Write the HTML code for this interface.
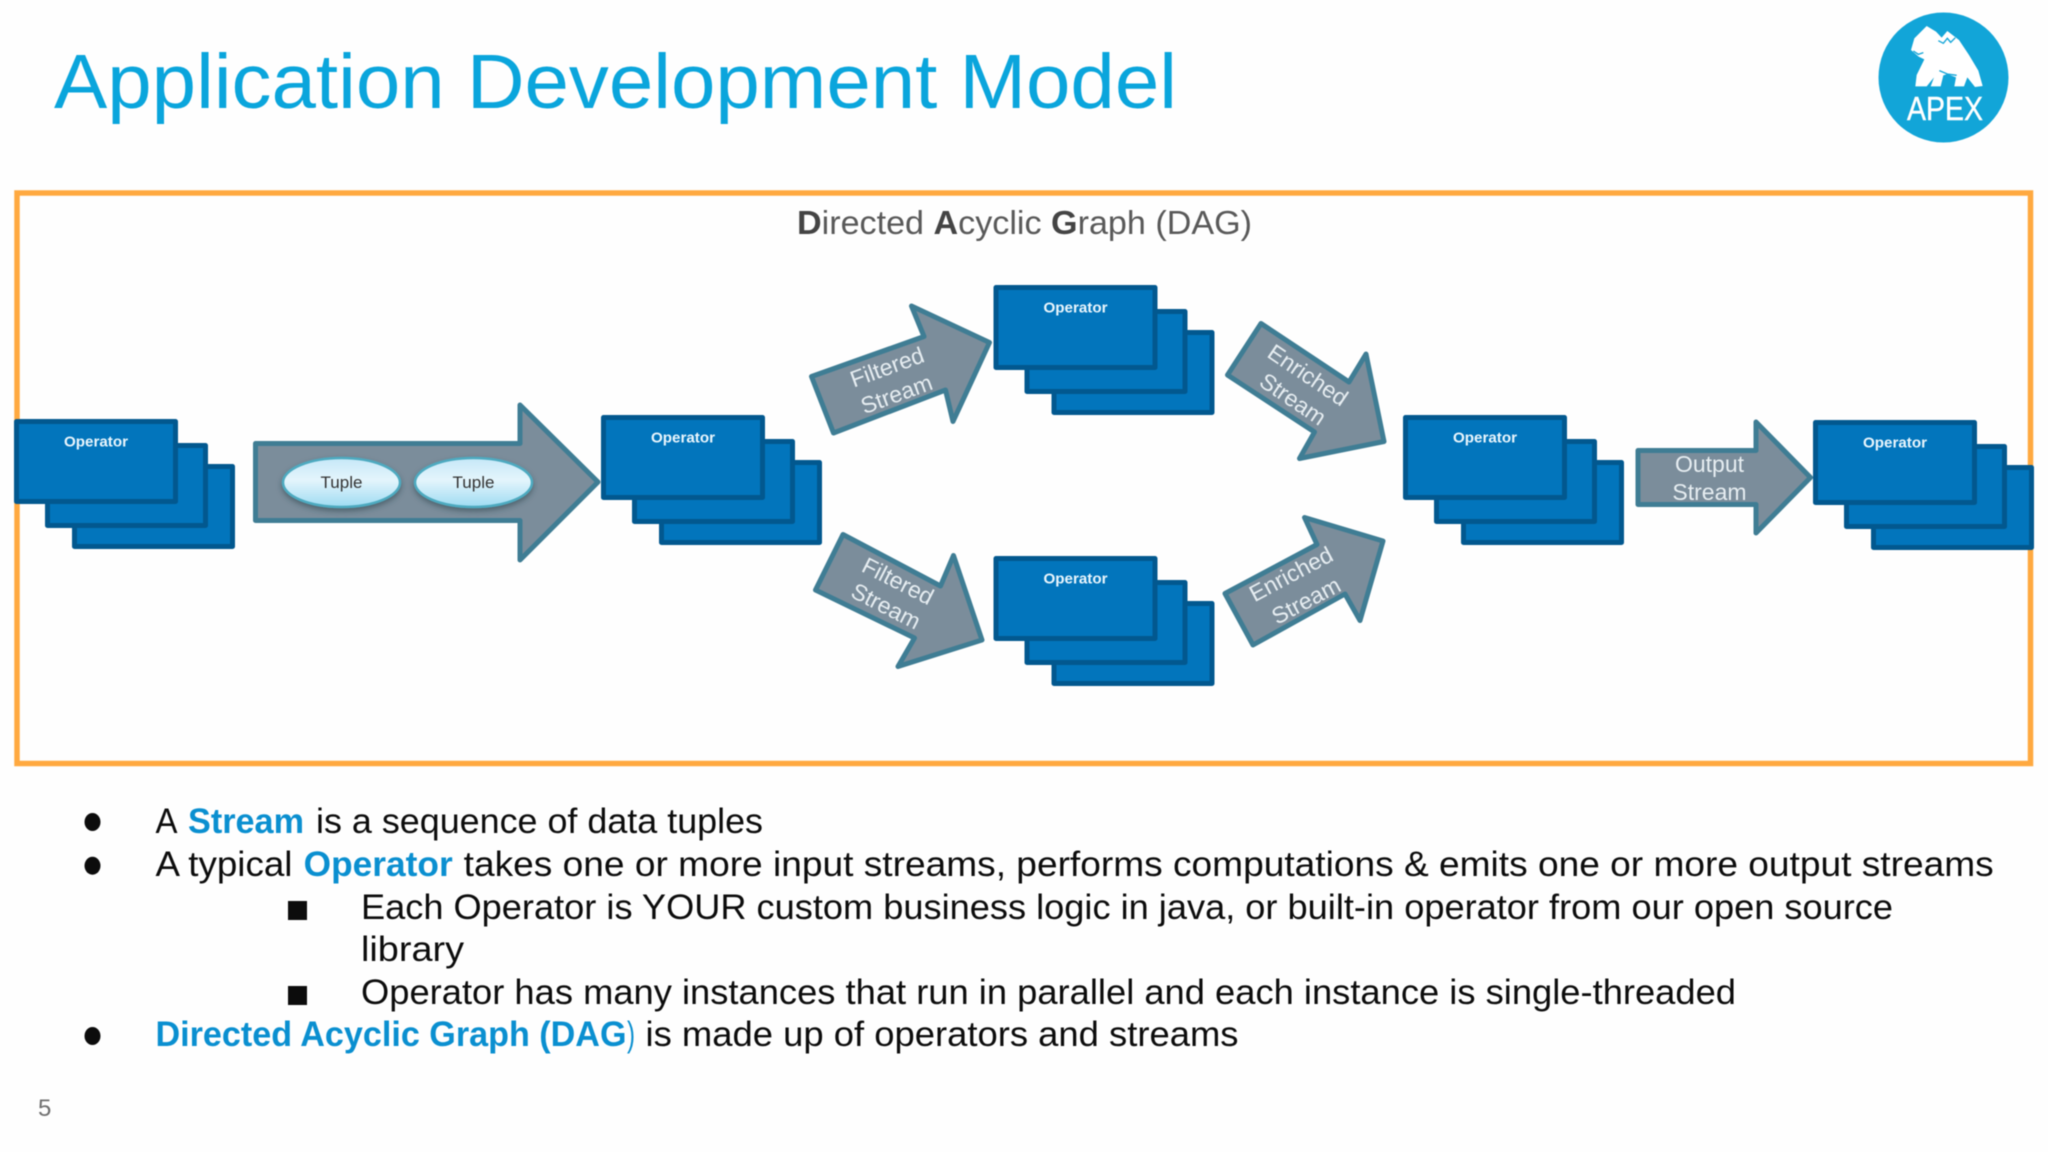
<!DOCTYPE html>
<html lang="en">
<head>
<meta charset="utf-8">
<title>Application Development Model</title>
<style>
html,body{margin:0;padding:0;background:#fefefe;width:2048px;height:1152px;overflow:hidden}
svg{display:block;filter:blur(.4px)}
text{font-family:"Liberation Sans",sans-serif}
.body{font-size:35px;fill:#0c0c0c}
.blue{font-size:35px;fill:#0a8fd0;font-weight:bold}
.op{font-size:15px;font-weight:bold;fill:#eaf6fd;text-anchor:middle}
.arr{font-size:23px;fill:#e6edf1;text-anchor:middle}
.tup{font-size:17px;fill:#333;text-anchor:middle}
.ar{fill:#7b8d9b;stroke:#3f7d94;stroke-width:5;stroke-linejoin:round}
.r{fill:#0275bc;stroke:#02588f;stroke-width:5;stroke-linejoin:round}
</style>
</head>
<body>
<svg width="2048" height="1152" viewBox="0 0 2048 1152" xmlns="http://www.w3.org/2000/svg">
<defs>
<linearGradient id="g" x1="0" y1="0" x2="0" y2="1">
<stop offset="0" stop-color="#c6e8f8"/><stop offset=".45" stop-color="#e4f5fc"/><stop offset="1" stop-color="#9edbf2"/>
</linearGradient>
<filter id="s" x="-20%" y="-30%" width="140%" height="170%">
<feDropShadow dx="0" dy="3" stdDeviation="3" flood-color="#2c3c48" flood-opacity=".55"/>
</filter>
<g id="stack">
<rect class="r" x="60.5" y="47.5" width="158" height="80"/>
<rect class="r" x="33.5" y="26.5" width="158" height="80"/>
<rect class="r" x="2.5" y="2.5" width="159" height="80"/>
<text class="op" x="82" y="27.5" textLength="64" lengthAdjust="spacingAndGlyphs">Operator</text>
</g>
</defs>

<text x="54" y="108" font-size="77" fill="#0aa5dc" textLength="1123" lengthAdjust="spacingAndGlyphs">Application Development Model</text>

<!-- Logo -->
<circle cx="1943.5" cy="77.5" r="65" fill="#12a5d8"/>
<g transform="translate(1860,0) scale(.33333)">
<path fill="#fff" d="M153 150 L163 115 L200 78 L228 95 L245 113 L262 93 L297 120 L327 165 L355 212 L368 258 L345 261 L322 232 L312 259 L283 259 L288 232 L262 222 L250 226 L242 259 L212 259 L222 232 L200 259 L166 259 L170 225 L193 178 L176 170 Z"/>
<path fill="none" stroke="#12a5d8" stroke-width="4" d="M235 122 L250 130 L262 115 L272 127 L286 113 M160 153 L175 163 L190 158 M238 212 L262 222 L290 226"/>
</g>
<text x="1907" y="120" font-size="33" fill="#fff" stroke="#fff" stroke-width=".4" textLength="76" lengthAdjust="spacingAndGlyphs">APEX</text>

<!-- Frame -->
<rect x="17" y="193" width="2013.5" height="570.5" fill="none" stroke="#ffa940" stroke-width="5.5"/>

<text x="797" y="234" font-size="33" fill="#595959" textLength="455" lengthAdjust="spacingAndGlyphs"><tspan font-weight="bold" fill="#444">D</tspan>irected <tspan font-weight="bold" fill="#444">A</tspan>cyclic <tspan font-weight="bold" fill="#444">G</tspan>raph (DAG)</text>

<!-- Stacks -->
<use href="#stack" x="14" y="419"/>
<use href="#stack" x="601" y="415"/>
<use href="#stack" x="993.5" y="285"/>
<use href="#stack" x="993.5" y="556"/>
<use href="#stack" x="1403" y="415"/>
<use href="#stack" x="1813" y="420"/>

<!-- Main arrow -->
<polygon class="ar" points="255.5,443.5 520,443.5 520,405 598,482 520,560 520,520.5 255.5,520.5"/>
<ellipse cx="341.5" cy="482.5" rx="58.5" ry="24.5" fill="url(#g)" stroke="#4eaac0" stroke-width="2.5" filter="url(#s)"/>
<ellipse cx="473.5" cy="482.5" rx="58.5" ry="24.5" fill="url(#g)" stroke="#4eaac0" stroke-width="2.5" filter="url(#s)"/>
<text class="tup" x="341.5" y="488">Tuple</text>
<text class="tup" x="473.5" y="488">Tuple</text>

<!-- Filtered top -->
<polygon class="ar" points="811.5,376.5 833.5,433 945.5,390 953,421.5 989.5,342.5 911.5,306 924,336.5"/>
<g transform="translate(887,367) rotate(-20)"><text class="arr" y="8">Filtered</text></g>
<g transform="translate(896.5,394) rotate(-20)"><text class="arr" y="8">Stream</text></g>

<!-- Enriched top -->
<polygon class="ar" points="1261,323.5 1349,382 1366,354 1384,441.5 1299.5,458.5 1314.5,432 1227.5,375"/>
<g transform="translate(1308,375) rotate(34)"><text class="arr" y="8">Enriched</text></g>
<g transform="translate(1293,399) rotate(34)"><text class="arr" y="8">Stream</text></g>

<!-- Filtered bottom -->
<polygon class="ar" points="843,534.5 940.5,586 953.5,555.5 982,640 898,666.5 914.5,638 815.5,590"/>
<g transform="translate(898,581) rotate(27)"><text class="arr" y="8">Filtered</text></g>
<g transform="translate(886,606) rotate(27)"><text class="arr" y="8">Stream</text></g>

<!-- Enriched bottom -->
<polygon class="ar" points="1304.5,517.5 1383,541 1360,620.5 1345,594 1253,645 1225,593.5 1317,544.5"/>
<g transform="translate(1291,574) rotate(-28)"><text class="arr" y="8">Enriched</text></g>
<g transform="translate(1306,600.5) rotate(-28)"><text class="arr" y="8">Stream</text></g>

<!-- Output -->
<polygon class="ar" points="1638,450.5 1756,450.5 1756,422 1810.5,477.5 1756,533 1756,504.5 1638,504.5"/>
<text class="arr" x="1709.5" y="472">Output</text>
<text class="arr" x="1709.5" y="500">Stream</text>

<!-- Bullets -->
<ellipse cx="92.5" cy="822" rx="8" ry="9" fill="#0c0c0c"/>
<ellipse cx="92.5" cy="865.7" rx="8" ry="9" fill="#0c0c0c"/>
<ellipse cx="92.5" cy="1036" rx="8" ry="9" fill="#0c0c0c"/>
<rect x="288" y="901" width="19" height="19" fill="#0c0c0c"/>
<rect x="288" y="986" width="19" height="19" fill="#0c0c0c"/>

<text class="body" x="155.5" y="833" textLength="22" lengthAdjust="spacingAndGlyphs">A</text>
<text class="blue" x="188" y="833" textLength="116" lengthAdjust="spacingAndGlyphs">Stream</text>
<text class="body" x="316" y="833" textLength="447" lengthAdjust="spacingAndGlyphs">is a sequence of data tuples</text>

<text class="body" x="155.5" y="876" textLength="137" lengthAdjust="spacingAndGlyphs">A typical</text>
<text class="blue" x="303.7" y="876" textLength="149" lengthAdjust="spacingAndGlyphs">Operator</text>
<text class="body" x="463.7" y="876" textLength="1530" lengthAdjust="spacingAndGlyphs">takes one or more input streams, performs computations &amp; emits one or more output streams</text>

<text class="body" x="361" y="919" textLength="1532" lengthAdjust="spacingAndGlyphs">Each Operator is YOUR custom business logic in java, or built-in operator from our open source</text>
<text class="body" x="361" y="961" textLength="103" lengthAdjust="spacingAndGlyphs">library</text>
<text class="body" x="361" y="1004" textLength="1375" lengthAdjust="spacingAndGlyphs">Operator has many instances that run in parallel and each instance is single-threaded</text>

<text class="blue" x="155.5" y="1046" textLength="471" lengthAdjust="spacingAndGlyphs">Directed Acyclic Graph (DAG</text>
<text class="body" x="627" y="1046" style="fill:#0a8fd0" textLength="8" lengthAdjust="spacingAndGlyphs">)</text>
<text class="body" x="645.5" y="1046" textLength="593" lengthAdjust="spacingAndGlyphs">is made up of operators and streams</text>

<text x="38" y="1116" font-size="24" fill="#6f6f6f">5</text>
</svg>
</body>
</html>
